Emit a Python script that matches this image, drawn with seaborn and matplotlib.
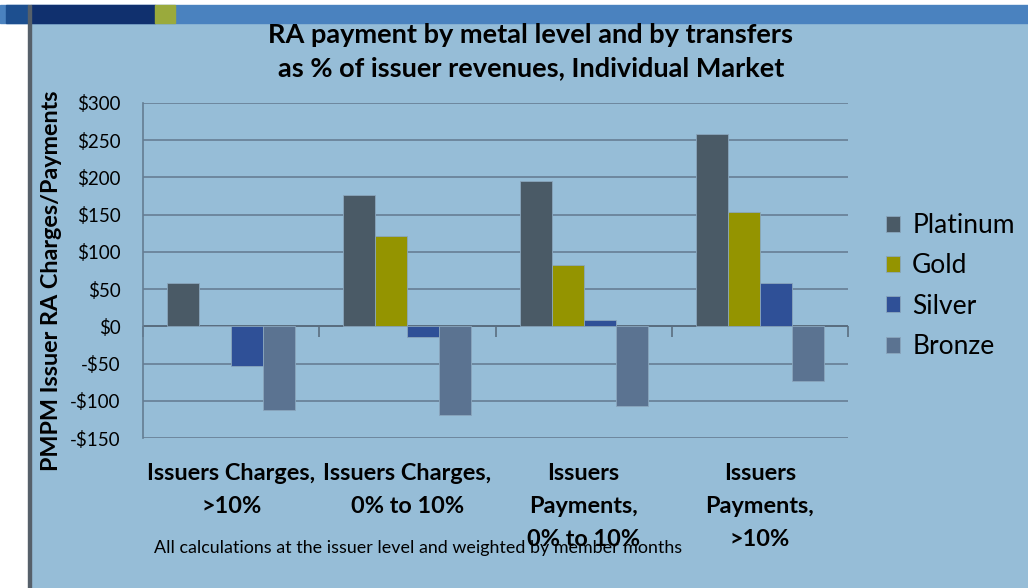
import matplotlib
matplotlib.use("Agg")
import matplotlib.pyplot as plt
import matplotlib.patches as mpatches
from matplotlib.ticker import FuncFormatter, FixedLocator
import seaborn as sns
import pandas as pd

categories = ["Issuers Charges,\n>10%", "Issuers Charges,\n0% to 10%",
              "Issuers\nPayments,\n0% to 10%", "Issuers\nPayments,\n>10%"]
metals = ["Platinum", "Gold", "Silver", "Bronze"]
platinum = [58, 177, 195, 259]
gold = [0, 121, 83, 154]
silver = [-53, -14, 8, 58]
bronze = [-112, -119, -107, -74]
colors = ["#4a5a66", "#949400", "#2f5097", "#5b7391"]
yticks = [-150, -100, -50, 0, 50, 100, 150, 200, 250, 300]

rows = []
for m, vals in zip(metals, [platinum, gold, silver, bronze]):
    for c, v in zip(categories, vals):
        rows.append({"cat": c, "metal": m, "value": v})
df = pd.DataFrame(rows)

sns.set_style("white")
FONT = ["Lato", "DejaVu Sans"]
plt.rcParams["font.family"] = FONT
plt.rcParams["text.color"] = "black"

BG = "#96bdd7"
fig = plt.figure(figsize=(10.28, 5.88), dpi=100, facecolor="white")
W, H = 1028, 588
def fx(x): return x / W
def fy(y): return 1 - y / H

def rect(x0, y0, x1, y1, color, z):
    fig.patches.append(mpatches.Rectangle((fx(x0), fy(y1)), fx(x1) - fx(x0), fy(y0) - fy(y1),
                                          transform=fig.transFigure, color=color, zorder=z))

# slide background and header
rect(31, 23, 1028, 588, BG, -10)
rect(0, 5, 1028, 23, "#4a82bf", -9)
rect(6, 5, 28, 23, "#1d4f8f", -8)
rect(31, 5, 155, 23, "#10306e", -8)
rect(155, 5, 175, 23, "#9aaa3c", -8)
rect(28, 5, 31, 588, "#56606a", -7)

ax = fig.add_axes([fx(143), fy(438), fx(848) - fx(143), fy(103) - fy(438)])
ax.set_facecolor("none")

sns.barplot(data=df, x="cat", y="value", hue="metal", hue_order=metals,
            palette=colors, saturation=1, width=0.727, gap=0, ax=ax, legend=True,
            edgecolor="#8aa6bd", linewidth=0.6, zorder=3)

ax.set_xlim(-0.5, 3.5)
ax.set_ylim(-150, 300)
ax.yaxis.set_major_locator(FixedLocator(yticks))
ax.yaxis.set_major_formatter(FuncFormatter(lambda v, p: f"${v:.0f}" if v >= 0 else f"-${-v:.0f}"))
ax.grid(axis="y", color="#6a8399", linewidth=1.3, zorder=1)
ax.set_axisbelow(True)
for s in ["top", "right", "bottom"]:
    ax.spines[s].set_visible(False)
ax.spines["left"].set_color("#647d92")
ax.spines["left"].set_linewidth(1.2)
ax.tick_params(axis="y", direction="out", length=8, color="#647d92", width=1.2,
               labelsize=13.5, pad=8, labelcolor="black")
ax.tick_params(axis="x", length=0, pad=18, labelsize=16.9, labelcolor="black")
for lab in ax.get_xticklabels():
    lab.set_fontweight("bold")
    lab.set_linespacing(1.72)
    lab.set_verticalalignment("top")
ax.axhline(0, color="#5a6e80", linewidth=1.4, zorder=2)

sec = ax.secondary_xaxis(1 / 3)
sec.set_xticks([-0.5, 0.5, 1.5, 2.5, 3.5])
sec.set_xticklabels([])
sec.tick_params(direction="out", length=8, color="#5a6e80", width=1.2)
sec.spines["bottom"].set_visible(False)

ax.set_xlabel("")
ax.set_ylabel("PMPM Issuer RA Charges/Payments", fontsize=16.8, fontweight="bold", labelpad=6,
              color="black")
ax.yaxis.label.set_position((0, 0.47))

leg = ax.legend(loc="center left", bbox_to_anchor=(fx(862), fy(286)), bbox_transform=fig.transFigure,
                frameon=False, fontsize=19.0, handlelength=0.55, handleheight=0.55,
                handletextpad=0.45, labelspacing=0.58)

fig.text(fx(531), fy(35), "RA payment by metal level and by transfers", ha="center", va="center",
         fontsize=19.5, fontweight="bold")
fig.text(fx(531), fy(68), "as % of issuer revenues, Individual Market", ha="center", va="center",
         fontsize=19.5, fontweight="bold")
fig.text(fx(154), fy(548), "All calculations at the issuer level and weighted by member months",
         ha="left", va="center", fontsize=12.9)

fig.savefig("out.png", dpi=100, facecolor=fig.get_facecolor())
